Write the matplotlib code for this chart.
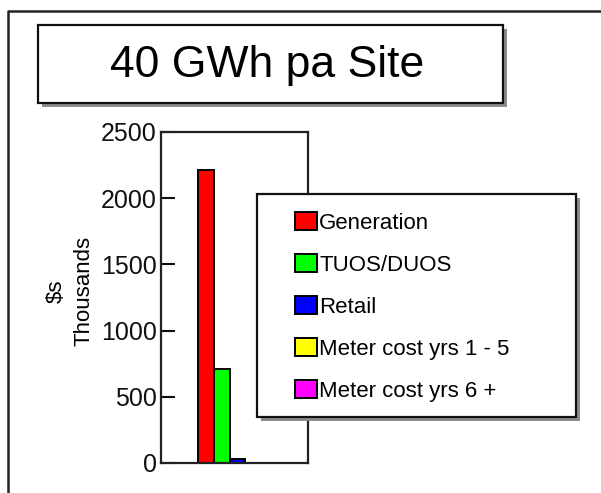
import matplotlib.pyplot as plt
from matplotlib.patches import Rectangle

# cost components for the site, $ thousands
categories = ["Generation", "TUOS/DUOS", "Retail",
              "Meter cost yrs 1 - 5", "Meter cost yrs 6 +"]
values = [2210, 710, 30, 0, 0]
colors = ["#ff0000", "#00ff00", "#0000ff", "#ffff00", "#ff00ff"]
yticks = [0, 500, 1000, 1500, 2000, 2500]
title = "40 GWh pa Site"

W, H = 601, 493
plt.rcParams["font.family"] = ["Liberation Sans", "DejaVu Sans"]

fig = plt.figure(figsize=(W / 100, H / 100), dpi=100)


def fx(x):
    return x / W


def fy(y):
    return 1 - y / H


def boxed(x0, y0, x1, y1, z):
    # white box with a flat grey drop shadow
    fig.add_artist(Rectangle((fx(x0 + 4), fy(y1 + 4)), (x1 - x0) / W, (y1 - y0) / H,
                             transform=fig.transFigure, facecolor="#8c8c8c",
                             edgecolor="none", zorder=z))
    fig.add_artist(Rectangle((fx(x0), fy(y1)), (x1 - x0) / W, (y1 - y0) / H,
                             transform=fig.transFigure, facecolor="white",
                             edgecolor="#111111", linewidth=1.6, zorder=z + 0.1))


# outer frame, runs off the right and bottom edges
fig.add_artist(plt.Line2D([fx(8), fx(8), 1.0], [0.0, fy(11), fy(11)],
                          transform=fig.transFigure, color="#222222", lw=1.8))

# bar chart
ax = fig.add_axes([fx(161), fy(463), 147 / W, 331 / H])
n = len(values)
width = 0.108
xs = [(i - (n - 1) / 2) * width + 0.02 for i in range(n)]
bars = []
for x, v, c, lab in zip(xs, values, colors, categories):
    bars.append(ax.bar(x, v, width, color=c, edgecolor="black",
                       linewidth=1.4, label=lab)[0])
ax.set_xlim(-0.5, 0.5)
ax.set_ylim(0, 2500)
ax.set_xticks([])
ax.set_yticks(yticks)
ax.set_yticklabels([str(t) for t in yticks])
ax.tick_params(axis="y", direction="in", length=10, width=1.5, pad=3,
               labelsize=18, colors="#111111")
for s in ax.spines.values():
    s.set_linewidth(1.6)
    s.set_color("#222222")

fig.text(fx(70), fy(291), r"\$s" + "\nThousands", rotation=90,
         ha="center", va="center", multialignment="center",
         fontsize=16, linespacing=1.4)

# title box
boxed(38, 25, 503, 103, 2)
fig.text(fx(267), fy(77), title, fontsize=32, ha="center", va="baseline",
         zorder=3)

# legend box
boxed(257, 194, 576, 417, 4)
leg = fig.legend(bars, categories, loc="upper left",
                 bbox_to_anchor=(fx(295), fy(212)), frameon=False,
                 fontsize=16, handlelength=0.99, handleheight=0.86,
                 handletextpad=0.1, labelspacing=0.92,
                 borderpad=0, borderaxespad=0)
leg.set_zorder(6)

fig.savefig("out.png", dpi=100)
